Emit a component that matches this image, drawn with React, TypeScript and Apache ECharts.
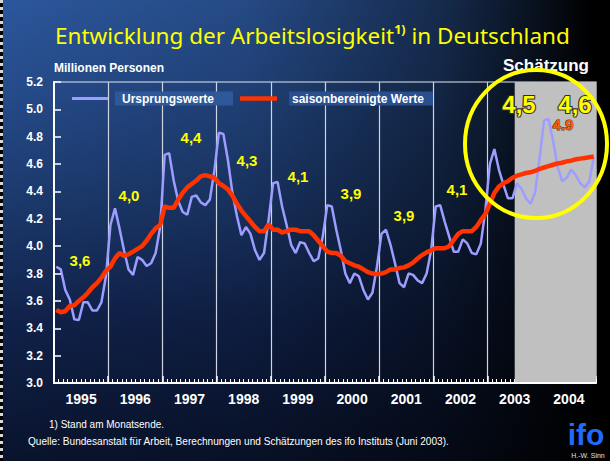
import React, { useEffect, useRef } from "react";
import * as echarts from "echarts";

// ---------- data ----------
const yearLabels = ["1995", "1996", "1997", "1998", "1999", "2000", "2001", "2002", "2003", "2004"];

// Ursprungswerte (monthly, Jan 1995 .. Dec 2004), Mio. Personen
const ursprungswerte = [
  3.85, 3.83, 3.68, 3.61, 3.465, 3.46, 3.59, 3.59, 3.53, 3.53, 3.59, 3.78,
  4.155, 4.277, 4.13, 3.97, 3.83, 3.79, 3.92, 3.9, 3.855, 3.875, 3.95, 4.14,
  4.667, 4.68, 4.48, 4.33, 4.25, 4.23, 4.36, 4.37, 4.32, 4.3, 4.34, 4.55,
  4.83, 4.82, 4.63, 4.39, 4.22, 4.08, 4.14, 4.09, 3.97, 3.9, 3.95, 4.19,
  4.46, 4.47, 4.29, 4.155, 4.01, 3.95, 4.03, 4.02, 3.95, 3.89, 3.91, 4.07,
  4.3, 4.29, 4.12, 3.97, 3.8, 3.73, 3.8, 3.78, 3.68, 3.61, 3.66, 3.85,
  4.09, 4.12, 4.01, 3.875, 3.73, 3.7, 3.8, 3.79, 3.75, 3.73, 3.8, 3.97,
  4.29, 4.3, 4.18, 4.07, 3.96, 3.96, 4.05, 4.02, 3.95, 3.94, 4.02, 4.26,
  4.6, 4.71, 4.56, 4.45, 4.35, 4.35, 4.46, 4.42, 4.35, 4.31, 4.39, 4.64,
  4.92, 4.93, 4.77, 4.58, 4.475, 4.5, 4.56, 4.52, 4.46, 4.43, 4.47, 4.65,
];

// saisonbereinigte Werte (monthly, Jan 1995 .. Dec 2004)
const saisonbereinigt = [
  3.534, 3.517, 3.524, 3.563, 3.568, 3.6, 3.626, 3.66, 3.7, 3.73, 3.77, 3.82,
  3.85, 3.91, 3.95, 3.93, 3.94, 3.96, 3.98, 4.0, 4.04, 4.09, 4.13, 4.155,
  4.29, 4.28, 4.28, 4.34, 4.39, 4.43, 4.455, 4.48, 4.51, 4.52, 4.51, 4.5,
  4.46, 4.44, 4.415, 4.37, 4.31, 4.26, 4.22, 4.18, 4.14, 4.11, 4.11, 4.16,
  4.12, 4.12, 4.1, 4.11, 4.12, 4.12, 4.11, 4.11, 4.11, 4.08, 4.04, 4.0,
  3.96, 3.95, 3.95, 3.93, 3.89, 3.875, 3.86, 3.85, 3.83, 3.81, 3.8, 3.795,
  3.8, 3.81, 3.83, 3.83, 3.84, 3.845, 3.86, 3.88, 3.91, 3.935, 3.955, 3.97,
  3.985, 3.985, 3.985, 4.0, 4.045, 4.09, 4.11, 4.11, 4.11, 4.14, 4.19, 4.235,
  4.31, 4.39, 4.435, 4.46, 4.475, 4.5, 4.515, 4.525, 4.535, 4.54, 4.55, 4.565,
  4.575, 4.585, 4.595, 4.605, 4.61, 4.62, 4.625, 4.635, 4.64, 4.645, 4.65, 4.655,
];

const yMin = 3.0;
const yMax = 5.2;
const yStep = 0.2;
const monthCount = 120;
const forecastStartMonth = 102; // Juli 2003

const averageLabels = ["3,6", "4,0", "4,4", "4,3", "4,1", "3,9", "3,9", "4,1"];
const forecastLabels = ["4,5", "4,6"];
const peakLabel = "4.9";

// ---------- layout (pixels) ----------
const avgPos = [
  [80, 260], [129, 195], [191, 137], [247, 160], [298, 176], [351, 193], [404, 215], [457, 189],
];
const forecastPos = [[519, 104], [575, 104]];

const FONT = '"Liberation Sans", Arial, sans-serif';

const txt = (x: number, y: number, text: string, fill: string, font: string, align = "left", extra: any = {}) => ({
  type: "text",
  x,
  y,
  z: 11,
  style: {
    text, fill, font,
    align, verticalAlign: "middle", textAlign: align, textVerticalAlign: "middle",
    ...extra,
  },
});

export default function App() {
  const ref = useRef<HTMLDivElement>(null);

  useEffect(() => {
    const chart = echarts.init(ref.current!, null, { renderer: "svg", width: 610, height: 461 });

    const graphics: any[] = [];

    // legend
    graphics.push(
      { type: "line", shape: { x1: 72, y1: 98.5, x2: 108, y2: 98.5 }, style: { stroke: "#9d9dff", lineWidth: 3 }, z: 10 },
      { type: "rect", shape: { x: 115, y: 91.5, width: 118, height: 14 }, style: { fill: "#2f5899" }, z: 10 },
      txt(122, 98.5, "Ursprungswerte", "#ffffff", `bold 12px ${FONT}`),
      { type: "line", shape: { x1: 240, y1: 98.5, x2: 277, y2: 98.5 }, style: { stroke: "#ff3300", lineWidth: 4.5 }, z: 10 },
      { type: "rect", shape: { x: 289, y: 91.5, width: 144, height: 14 }, style: { fill: "#2a4f8e" }, z: 10 },
      txt(292, 98.5, "saisonbereinigte Werte", "#ffffff", `bold 12px ${FONT}`)
    );

    // unit label
    graphics.push(txt(54, 68, "Millionen Personen", "#ffffff", `bold 12px ${FONT}`));

    // Schätzung
    graphics.push(txt(546, 65, "Schätzung", "#ffffff", `bold 17px ${FONT}`, "center"));

    // yearly averages
    averageLabels.forEach((t, i) => {
      graphics.push(txt(avgPos[i][0], avgPos[i][1], t, "#ffff00", `bold 15px ${FONT}`, "center"));
    });

    // forecast labels with dark edge
    forecastLabels.forEach((t, i) => {
      graphics.push(
        txt(forecastPos[i][0], forecastPos[i][1], t, "#ffff00", `bold 24px ${FONT}`, "center", {
          stroke: "#2e2e2e", lineWidth: 2.2,
        })
      );
    });
    graphics.push(
      txt(563, 124, peakLabel, "#ff5a00", `bold 15px ${FONT}`, "center", {
        stroke: "#5a3010", lineWidth: 1,
      })
    );

    // yellow ellipse
    graphics.push({
      type: "ellipse", z: 13,
      shape: { cx: 536, cy: 144, rx: 71, ry: 74 },
      style: { stroke: "#ffff00", lineWidth: 4, fill: "none" },
    });

    // footnotes
    graphics.push(
      txt(49, 424, "1) Stand am Monatsende.", "#ffffff", `10px ${FONT}`),
      txt(28, 441, "Quelle: Bundesanstalt für Arbeit, Berechnungen und Schätzungen des ifo Instituts (Juni 2003).", "#ffffff", `10.1px ${FONT}`)
    );

    // ifo logo
    graphics.push(
      txt(586, 434, "ifo", "#1f6bff", `bold 30px ${FONT}`, "center"),
      txt(588, 455, "H.-W. Sinn", "#e0e0e0", `7px ${FONT}`, "center")
    );

    const option: any = {
      animation: false,
      backgroundColor: "transparent",
      title: {
        text: "{a|Entwicklung der Arbeitslosigkeit}{s|1)}{a| in Deutschland}",
        left: 55,
        top: 23,
        padding: 0,
        textStyle: {
          rich: {
            a: { fontFamily: '"Noto Sans", sans-serif', fontSize: 22.5, color: "#ffff00", fontWeight: "normal" },
            s: { fontFamily: '"Noto Sans", sans-serif', fontSize: 12.5, color: "#ffff00", verticalAlign: "top", padding: [0, 0, 11, 0] },
          },
        },
      },
      grid: {
        left: 54, right: 14, top: 82, bottom: 78,
        show: true, borderColor: "#e6e8ee", borderWidth: 1.2, backgroundColor: "transparent",
      },
      xAxis: [
        {
          type: "value", min: 0, max: monthCount, interval: 1, position: "bottom",
          axisLine: { show: false },
          axisTick: { show: true, inside: true, length: 4, lineStyle: { color: "#ffffff", width: 1 } },
          axisLabel: { show: false },
          splitLine: { show: false },
        },
        {
          type: "value", min: 0, max: monthCount, interval: 12, position: "bottom",
          axisLine: { show: false },
          axisTick: { show: true, inside: true, length: 7, lineStyle: { color: "#ffffff", width: 1.5 } },
          axisLabel: { show: false },
          splitLine: { show: true, showMinLine: false, showMaxLine: false, lineStyle: { color: "#cfd5e0", width: 1.2 } },
        },
        {
          type: "category", data: yearLabels, boundaryGap: true, position: "bottom", z: 5,
          axisLine: { show: true, lineStyle: { color: "#ffffff", width: 2 } },
          axisTick: { show: false },
          axisLabel: { show: true, color: "#ffffff", fontFamily: FONT, fontWeight: "bold", fontSize: 14, margin: 9 },
          splitLine: { show: false },
        },
      ],
      yAxis: {
        type: "value", min: yMin, max: yMax, interval: yStep, z: 5,
        axisLine: { show: true, lineStyle: { color: "#ffffff", width: 2 } },
        axisTick: { show: true, inside: true, length: 7, lineStyle: { color: "#ffffff", width: 1.5 } },
        axisLabel: { color: "#ffffff", fontFamily: FONT, fontWeight: "bold", fontSize: 12, margin: 11, formatter: (v: number) => v.toFixed(1) },
        splitLine: { show: false },
      },
      series: [
        {
          type: "line", name: "Schätzung", data: [], xAxisIndex: 0, z: 1, silent: true,
          markArea: {
            silent: true,
            itemStyle: { color: "#c0c0c0", opacity: 1 },
            data: [[{ xAxis: forecastStartMonth, yAxis: yMax }, { xAxis: monthCount, yAxis: yMin }]],
          },
        },
        {
          type: "line", name: "Ursprungswerte", xAxisIndex: 0, z: 3,
          data: ursprungswerte.map((v, i) => [i + 0.5, v]),
          symbol: "none",
          lineStyle: { color: "#9d9dff", width: 2.5 },
        },
        {
          type: "line", name: "saisonbereinigte Werte", xAxisIndex: 0, z: 4,
          data: saisonbereinigt.map((v, i) => [i + 0.5, v]),
          symbol: "none",
          lineStyle: { color: "#ff3300", width: 4.5 },
        },
      ],
      graphic: graphics,
    };

    chart.setOption(option);
    return () => chart.dispose();
  }, []);

  return (
    <div
      style={{
        position: "fixed", left: 0, top: 0, width: 610, height: 461, overflow: "hidden",
        background:
          "linear-gradient(90deg, rgba(0,0,0,0) 0%, rgba(0,0,0,0.15) 40%, rgba(0,0,0,0.5) 72%, rgba(0,0,0,0.85) 90%, #000 97%), linear-gradient(180deg, #2c579c 0%, #254b8a 20%, #1b386b 45%, #10214a 70%, #09132c 100%)",
      }}
    >
      <div
        style={{
          position: "absolute", left: 0, top: 0, width: 3, height: 461,
          background: "repeating-linear-gradient(180deg, #d8d8d8 0px, #d8d8d8 3px, #000 3px, #000 7px)",
        }}
      />
      <div ref={ref} style={{ position: "absolute", left: 0, top: 0, width: 610, height: 461 }} />
    </div>
  );
}
